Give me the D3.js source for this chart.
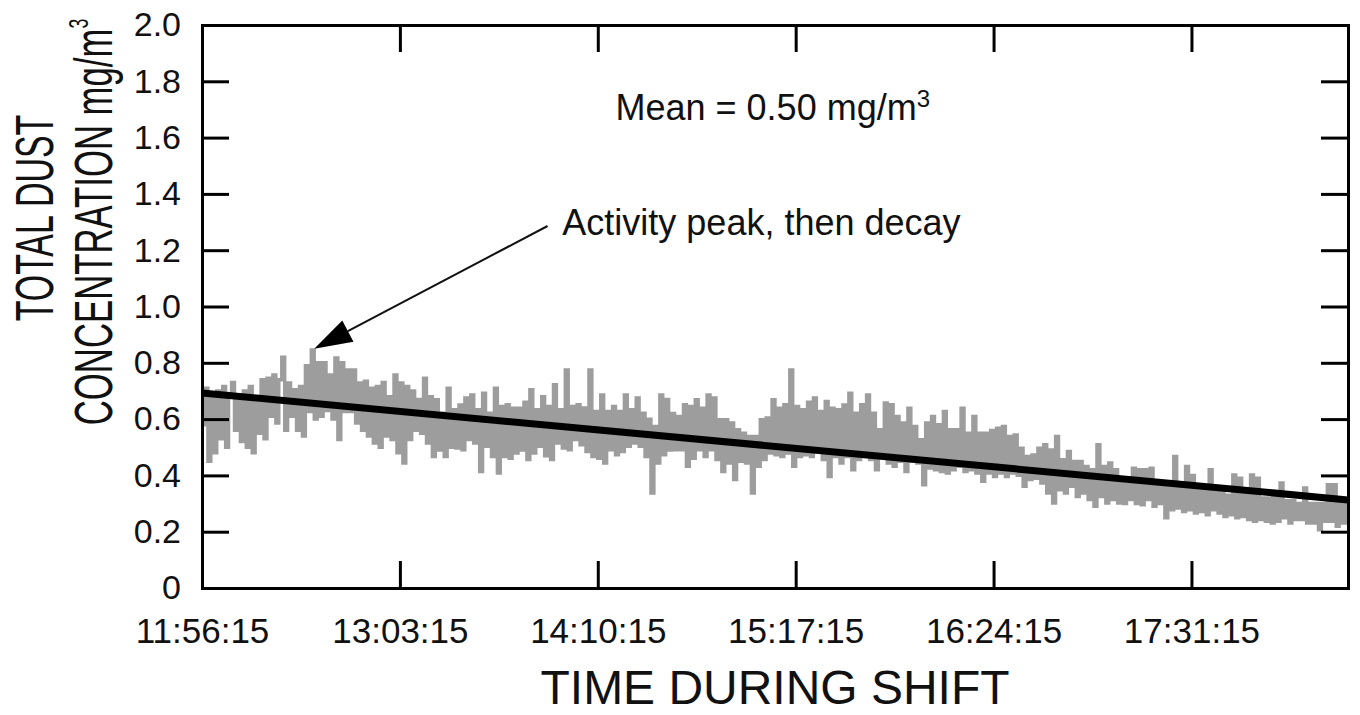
<!DOCTYPE html>
<html>
<head>
<meta charset="utf-8">
<script src="https://cdn.jsdelivr.net/npm/d3@7"></script>
<style>
  body { margin: 0; background: #fff; }
  text { font-family: "Liberation Sans", Arial, sans-serif; fill: #111; }
</style>
</head>
<body>
<svg id="chart" width="1360" height="715"></svg>
<script>
// time axis: one reading per minute from the start of the shift
var startTime = "11:56:15";
var endTime = "18:24:15";

// total dust, mg/m3, one value per minute
var dust = [
  0.58,0.71,0.45,0.69,0.48,0.70,0.53,0.716,0.50,0.68,
  0.73,0.56,0.68,0.52,0.70,0.50,0.716,0.48,0.68,0.55,
  0.74,0.53,0.745,0.61,0.757,0.586,0.74,0.82,0.56,0.728,
  0.61,0.704,0.56,0.716,0.54,0.79,0.627,0.846,0.60,0.80,
  0.61,0.80,0.63,0.757,0.60,0.817,0.527,0.80,0.627,0.775,
  0.627,0.775,0.586,0.728,0.56,0.735,0.54,0.71,0.515,0.716,
  0.50,0.73,0.54,0.68,0.527,0.757,0.48,0.728,0.444,0.716,
  0.527,0.70,0.56,0.67,0.55,0.745,0.515,0.68,0.467,0.669,
  0.49,0.621,0.467,0.71,0.50,0.633,0.497,0.65,0.491,0.675,
  0.527,0.686,0.515,0.633,0.414,0.692,0.503,0.621,0.467,0.71,
  0.408,0.645,0.467,0.651,0.461,0.639,0.479,0.639,0.49,0.66,
  0.456,0.704,0.479,0.633,0.503,0.68,0.47,0.645,0.456,0.722,
  0.515,0.633,0.497,0.775,0.491,0.645,0.527,0.651,0.509,0.64,
  0.485,0.775,0.467,0.627,0.461,0.686,0.444,0.627,0.491,0.645,
  0.473,0.627,0.485,0.686,0.503,0.633,0.515,0.675,0.503,0.621,
  0.467,0.60,0.337,0.574,0.444,0.686,0.473,0.67,0.49,0.62,
  0.491,0.609,0.491,0.651,0.432,0.645,0.461,0.669,0.491,0.639,
  0.467,0.686,0.491,0.675,0.456,0.598,0.414,0.598,0.444,0.586,
  0.385,0.562,0.45,0.55,0.444,0.538,0.337,0.538,0.432,0.598,
  0.456,0.604,0.479,0.669,0.473,0.639,0.467,0.651,0.479,0.775,
  0.432,0.645,0.467,0.633,0.473,0.66,0.467,0.675,0.491,0.627,
  0.456,0.663,0.396,0.639,0.467,0.633,0.444,0.65,0.467,0.692,
  0.42,0.621,0.456,0.651,0.467,0.686,0.456,0.621,0.42,0.562,
  0.467,0.657,0.444,0.651,0.432,0.609,0.45,0.586,0.414,0.639,
  0.45,0.574,0.444,0.527,0.367,0.586,0.426,0.609,0.42,0.58,
  0.414,0.627,0.408,0.562,0.42,0.562,0.432,0.639,0.414,0.55,
  0.42,0.609,0.408,0.55,0.379,0.55,0.408,0.56,0.396,0.568,
  0.408,0.574,0.396,0.538,0.408,0.544,0.40,0.497,0.361,0.467,
  0.385,0.473,0.39,0.497,0.373,0.509,0.337,0.49,0.302,0.538,
  0.349,0.456,0.337,0.485,0.361,0.45,0.325,0.45,0.337,0.432,
  0.314,0.42,0.29,0.509,0.325,0.432,0.302,0.444,0.314,0.42,
  0.302,0.39,0.30,0.37,0.314,0.426,0.30,0.42,0.296,0.42,
  0.314,0.426,0.29,0.37,0.30,0.36,0.249,0.36,0.278,0.467,
  0.284,0.36,0.272,0.432,0.278,0.40,0.266,0.35,0.272,0.35,
  0.26,0.42,0.278,0.34,0.266,0.34,0.254,0.33,0.26,0.402,
  0.249,0.39,0.254,0.34,0.243,0.402,0.237,0.39,0.243,0.32,
  0.237,0.32,0.231,0.32,0.237,0.373,0.249,0.31,0.231,0.31,
  0.243,0.30,0.243,0.355,0.231,0.30,0.231,0.30,0.207,0.30,
  0.237,0.367,0.237,0.367,0.219,0.30,0.231,0.296,0.225
];

// linear trend drawn over the trace
var fitTimes = ["11:56:15", "18:24:15"];
var fitValues = [0.693, 0.313];

var xTickLabels = ["11:56:15","13:03:15","14:10:15","15:17:15","16:24:15","17:31:15"];
var yTicks = [0,0.2,0.4,0.6,0.8,1.0,1.2,1.4,1.6,1.8,2.0];

var parseTime = d3.timeParse("%H:%M:%S");
var fmtTime = d3.timeFormat("%H:%M:%S");

var margin = {left: 202, right: 1348, top: 25, bottom: 588};
var svg = d3.select("#chart");

var t0 = parseTime(startTime);
var x = d3.scaleTime()
  .domain([t0, parseTime(endTime)])
  .range([margin.left, margin.right]);
var y = d3.scaleLinear()
  .domain([0, 2])
  .range([margin.bottom, margin.top]);

var points = dust.map(function(v, i) { return {t: d3.timeMinute.offset(t0, i), v: v}; });

// the dust trace
svg.append("path")
  .datum(points)
  .attr("fill", "none")
  .attr("stroke", "#9d9d9d")
  .attr("stroke-width", 3.4)
  .attr("d", d3.line()
    .curve(d3.curveStepAfter)
    .x(function(d) { return x(d.t); })
    .y(function(d) { return y(d.v); }));

// trend line
var fit = fitTimes.map(function(t, i) { return {t: parseTime(t), v: fitValues[i]}; });
svg.append("path")
  .datum(fit)
  .attr("fill", "none")
  .attr("stroke", "#000")
  .attr("stroke-width", 7)
  .attr("d", d3.line()
    .x(function(d) { return x(d.t); })
    .y(function(d) { return y(d.v); }));

// axes, all ticks pointing inwards
function styleAxis(g, size) {
  g.attr("font-size", size).attr("font-family", null);
  g.selectAll("path.domain").attr("stroke", "#000").attr("stroke-width", 3).attr("stroke-linecap", "square");
  g.selectAll(".tick line").attr("stroke", "#000").attr("stroke-width", 3);
  g.selectAll(".tick text").attr("fill", "#111");
}

var xTickDates = xTickLabels.map(parseTime);

svg.append("g")
  .attr("transform", "translate(0," + margin.bottom + ")")
  .call(d3.axisBottom(x).tickValues(xTickDates).tickFormat(fmtTime)
    .tickSize(-27).tickSizeOuter(0).tickPadding(30))
  .call(styleAxis, 35);

svg.append("g")
  .attr("transform", "translate(0," + margin.top + ")")
  .call(d3.axisTop(x).tickValues(xTickDates).tickFormat("")
    .tickSize(-27).tickSizeOuter(0))
  .call(styleAxis, 35);

svg.append("g")
  .attr("transform", "translate(" + margin.left + ",0)")
  .call(d3.axisLeft(y).tickValues(yTicks)
    .tickFormat(function(d) { return d === 0 ? "0" : d.toFixed(1); })
    .tickSize(-27).tickSizeOuter(0).tickPadding(21))
  .call(styleAxis, 34);

svg.append("g")
  .attr("transform", "translate(" + margin.right + ",0)")
  .call(d3.axisRight(y).tickValues(yTicks).tickFormat("")
    .tickSize(-27).tickSizeOuter(0))
  .call(styleAxis, 34);

// axis titles
svg.append("text")
  .attr("x", (margin.left + margin.right) / 2)
  .attr("y", 704)
  .attr("text-anchor", "middle")
  .attr("font-size", 48)
  .attr("textLength", 469)
  .attr("lengthAdjust", "spacingAndGlyphs")
  .text("TIME DURING SHIFT");

svg.append("text")
  .attr("transform", "translate(53,218) rotate(-90) scale(0.64,1)")
  .attr("text-anchor", "middle")
  .attr("font-size", 53)
  .text("TOTAL DUST");

var yt2 = svg.append("text")
  .attr("transform", "translate(112,222) rotate(-90) scale(0.655,1)")
  .attr("text-anchor", "middle")
  .attr("font-size", 53);
yt2.append("tspan").text("CONCENTRATION mg/m");
yt2.append("tspan").attr("font-size", 27).attr("dy", -24).text("3");

// annotations
var mean = svg.append("text")
  .attr("x", x(d3.timeMinute.offset(t0, 140)))
  .attr("y", y(1.663))
  .attr("font-size", 36);
mean.append("tspan").text("Mean = 0.50 mg/m");
mean.append("tspan").attr("font-size", 24).attr("dy", -13).text("3");

svg.append("text")
  .attr("x", x(d3.timeMinute.offset(t0, 122)))
  .attr("y", y(1.254))
  .attr("font-size", 36)
  .text("Activity peak, then decay");

var tip = [x(d3.timeMinute.offset(t0, 38)), y(0.85)];
var tail = [x(d3.timeMinute.offset(t0, 117)), y(1.286)];
var dx = tail[0] - tip[0], dy = tail[1] - tip[1];
var len = Math.sqrt(dx * dx + dy * dy);
var ux = dx / len, uy = dy / len;
var headLen = 38, headHalf = 12;
var base = [tip[0] + ux * headLen, tip[1] + uy * headLen];

svg.append("line")
  .attr("x1", tail[0]).attr("y1", tail[1])
  .attr("x2", base[0]).attr("y2", base[1])
  .attr("stroke", "#111")
  .attr("stroke-width", 2);

svg.append("polygon")
  .attr("points", [
    tip,
    [base[0] - uy * headHalf, base[1] + ux * headHalf],
    [base[0] + uy * headHalf, base[1] - ux * headHalf]
  ].map(function(p) { return p.join(","); }).join(" "))
  .attr("fill", "#000");
</script>
</body>
</html>
